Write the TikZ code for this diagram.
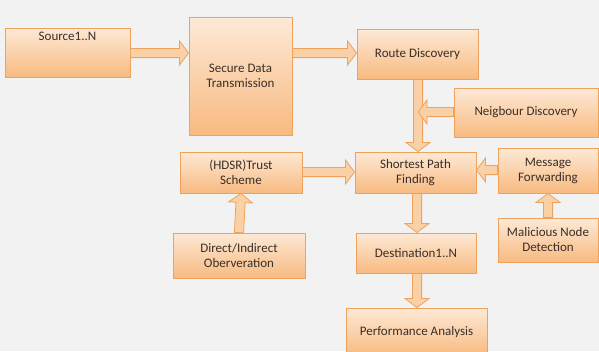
\documentclass[tikz,border=0pt]{standalone}
\usepackage{fontspec}
\setmainfont{Carlito}
\usetikzlibrary{calc,shadows}
\definecolor{bgc}{RGB}{242,242,242}
\definecolor{boxtop}{RGB}{253,233,214}
\definecolor{boxbot}{RGB}{248,186,128}
\definecolor{boxline}{RGB}{238,162,92}
\definecolor{arrfill}{RGB}{250,208,166}
\definecolor{txt}{RGB}{58,46,40}
\tikzset{
  box/.style={rectangle, draw=boxline, line width=0.9pt,
    top color=boxtop, bottom color=boxbot,
    font=\fontsize{13}{15}\selectfont, text=txt, align=center, inner sep=2pt,
    drop shadow={shadow xshift=1.2pt, shadow yshift=-1.2pt, fill=black, opacity=0.12}},
  boxtext/.style={font=\fontsize{13}{15}\selectfont, text=txt, align=center, inner sep=2pt},
  blockarrow/.style={draw=boxline, fill=arrfill, line width=0.8pt, line join=miter},
}
% hollow block arrow from #1 to #2 (straight)
\newcommand\barrow[2]{%
  \coordinate (ba-s) at (#1);
  \coordinate (ba-e) at (#2);
  \coordinate (ba-n) at ($(ba-e)!9pt!(ba-s)$);
  \filldraw[blockarrow]
    ($(ba-s)!4.6pt!90:(ba-e)$) -- ($(ba-n)!4.6pt!90:(ba-e)$) --
    ($(ba-n)!12pt!90:(ba-e)$) -- (ba-e) --
    ($(ba-n)!12pt!-90:(ba-e)$) -- ($(ba-n)!4.6pt!-90:(ba-e)$) --
    ($(ba-s)!4.6pt!-90:(ba-e)$) -- cycle;}
\begin{document}
\begin{tikzpicture}[x=1pt,y=-1pt]
  \useasboundingbox (0,0) rectangle (599,351);
  \clip (0,0) rectangle (599,351);
  \fill[bgc] (0,0) rectangle (599,351);

  % boxes
  \node[box, minimum width=125pt, minimum height=49pt] (src) at (67.5,52.5) {};
  \node[boxtext, anchor=north] at ($(src.north)+(0,2)$) {Source1..N};
  \node[box, minimum width=103pt, minimum height=118pt] (sdt) at (240.5,76) {Secure Data\\Transmission};
  \node[box, minimum width=121pt, minimum height=50pt] (route) at (417.5,54) {Route Discovery};
  \node[box, minimum width=144pt, minimum height=49pt] (neigh) at (526,112.5) {Neigbour Discovery};
  \node[box, minimum width=121pt, minimum height=41pt] (spf) at (415.5,172.5) {Shortest Path\\Finding};
  \node[box, minimum width=122pt, minimum height=41pt] (trust) at (241,172.5) {(HDSR)Trust\\Scheme};
  \node[box, minimum width=132pt, minimum height=45pt] (direct) at (239,255.5) {Direct/Indirect\\Oberveration};
  \node[box, minimum width=100pt, minimum height=45pt] (msg) at (548,170.5) {Message\\Forwarding};
  \node[box, minimum width=100pt, minimum height=44pt] (mal) at (548,240) {Malicious Node\\Detection};
  \node[box, minimum width=120pt, minimum height=40pt] (dest) at (416,253) {Destination1..N};
  \node[box, minimum width=141pt, minimum height=48pt] (perf) at (416.5,332) {Performance Analysis};

  % reference lines for arrows
  \coordinate (row1) at (0,53);
  \coordinate (nrow) at (0,112);
  \coordinate (trow) at (0,172);
  \coordinate (mrow) at (0,170);
  \coordinate (colr) at (418,0);
  \coordinate (cold) at (417,0);

  % connectors
  \barrow{src.east |- row1}{sdt.west |- row1}
  \barrow{sdt.east |- row1}{route.west |- row1}
  \barrow{route.south -| colr}{spf.north -| colr}
  \barrow{neigh.west |- nrow}{colr |- nrow}
  \barrow{trust.east |- trow}{spf.west |- trow}
  \barrow{msg.west |- mrow}{spf.east |- mrow}
  \barrow{direct.north}{trust.south}
  \barrow{mal.north}{msg.south}
  \barrow{spf.south -| cold}{dest.north -| cold}
  \barrow{dest.south -| cold}{perf.north -| cold}
\end{tikzpicture}
\end{document}
